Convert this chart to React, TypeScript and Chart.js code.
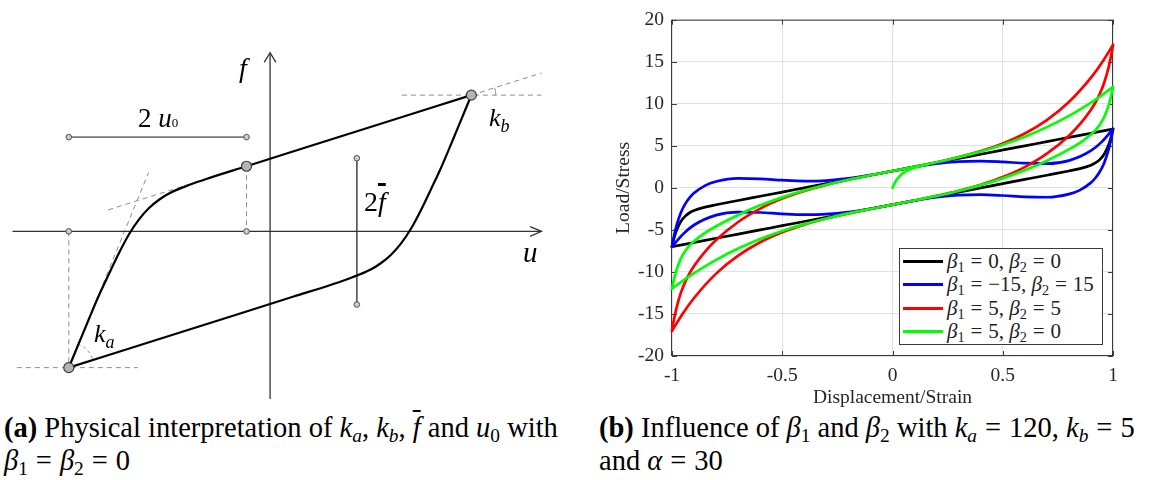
import React, { useEffect, useRef } from "react";
import { Chart, registerables } from "chart.js";

Chart.register(...registerables);

const SERIF = '"Liberation Serif", "Times New Roman", serif';

// ---------- Panel (a): schematic hysteresis loop in normalised units (u, f) ----------
const loopUpU = [-1, -0.95, -0.9, -0.85, -0.8, -0.75, -0.7, -0.65, -0.6, -0.55, -0.5, -0.4, -0.3, -0.117, 0.44, 1];
const loopUpF = [-1, -0.821, -0.643, -0.469, -0.311, -0.157, -0.019, 0.09, 0.173, 0.234, 0.28, 0.342, 0.393, 0.478, 0.739, 1];
const loopDownU = [-1, -0.44, 0.117, 0.3, 0.4, 0.5, 0.55, 0.6, 0.65, 0.7, 0.75, 0.8, 0.85, 0.9, 0.95, 1];
const loopDownF = [-1, -0.739, -0.478, -0.393, -0.342, -0.28, -0.234, -0.173, -0.09, 0.019, 0.157, 0.311, 0.469, 0.643, 0.821, 1];

const uAxisU = [-1.28, 1.348];
const uAxisF = [0, 0];
const uArrowU = [1.292, 1.348, 1.292];
const uArrowF = [0.035, 0, -0.036];
const fAxisU = [0, 0];
const fAxisF = [-1.23, 1.311];
const fArrowU = [-0.029, 0, 0.029];
const fArrowF = [1.24, 1.311, 1.24];

const dashVertAU = [-1, -1];
const dashVertAF = [0, -1];
const dashVertMU = [-0.117, -0.117];
const dashVertMF = [0.478, 0];
const dashBaseAU = [-1.258, -0.657];
const dashBaseAF = [-1, -1];
const dashBaseBU = [0.655, 1.348];
const dashBaseBF = [1, 1];
const dashSlopeBU = [1, 1.348];
const dashSlopeBF = [1, 1.162];
const dashSlopeMU = [-0.804, -0.117];
const dashSlopeMF = [0.158, 0.478];
const dashSlopeAU = [-1, -0.604];
const dashSlopeAF = [-1, 0.431];
const arcAU = [-0.9558, -0.9282, -0.9074, -0.8909, -0.8795];
const arcAF = [-0.8285, -0.8477, -0.8742, -0.9068, -0.9431];
const arcBU = [1.1215, 1.12, 1.1157];
const arcBF = [1, 1.0278, 1.0541];

const barU0U = [-1, -0.117];
const barU0F = [0.692, 0.692];
const barFbarU = [0.431, 0.431];
const barFbarF = [0.537, -0.537];

const bigPtsU = [-1, -0.117, 1];
const bigPtsF = [-1, 0.478, 1];
const smallPtsU = [-1, -0.117, -1, -0.117, 0.431, 0.431];
const smallPtsF = [0, 0, 0.692, 0.692, 0.537, -0.537];

// ---------- Panel (b): load vs displacement for four (beta1, beta2) cases ----------
const UP_U = [-1, -0.99, -0.98, -0.96, -0.94, -0.92, -0.9, -0.85, -0.8, -0.7, -0.6, -0.5, -0.4, -0.3, -0.2, -0.1, 0, 0.1, 0.2, 0.3, 0.4, 0.5, 0.6, 0.7, 0.8, 0.9, 0.95, 1];
const DOWN_U = [-1, -0.95, -0.9, -0.8, -0.7, -0.6, -0.5, -0.4, -0.3, -0.2, -0.1, 0, 0.1, 0.2, 0.3, 0.4, 0.5, 0.6, 0.7, 0.8, 0.85, 0.9, 0.92, 0.94, 0.96, 0.98, 0.99, 1];

const blackUp = [-7, -5.91, -5.1, -4.0, -3.36, -2.96, -2.7, -2.29, -2.01, -1.5, -1.0, -0.5, 0, 0.5, 1.0, 1.5, 2.0, 2.5, 3.0, 3.5, 4.0, 4.5, 5.0, 5.5, 6.0, 6.5, 6.75, 7];
const blackDown = [-7, -6.75, -6.5, -6.0, -5.5, -5.0, -4.5, -4.0, -3.5, -3.0, -2.5, -2.0, -1.5, -1.0, -0.5, 0, 0.5, 1.0, 1.5, 2.01, 2.29, 2.7, 2.96, 3.36, 4.0, 5.1, 5.91, 7];
const blueUp = [-7, -5.62, -4.54, -2.96, -1.91, -1.17, -0.62, 0.27, 0.75, 1.12, 1.07, 0.91, 0.81, 0.87, 1.12, 1.52, 2.0, 2.49, 2.89, 3.13, 3.19, 3.09, 2.93, 2.88, 3.24, 4.42, 5.5, 7];
const blueDown = [-7, -5.5, -4.42, -3.24, -2.88, -2.93, -3.09, -3.19, -3.13, -2.89, -2.49, -2.0, -1.52, -1.12, -0.87, -0.81, -0.91, -1.07, -1.12, -0.75, -0.27, 0.62, 1.17, 1.91, 2.96, 4.54, 5.62, 7];
const redUp = [-17, -15.52, -14.33, -12.5, -11.18, -10.15, -9.3, -7.58, -6.21, -4.06, -2.47, -1.28, -0.37, 0.35, 0.96, 1.5, 2.0, 2.51, 3.04, 3.65, 4.37, 5.28, 6.47, 8.06, 10.2, 13.1, 14.91, 17];
const redDown = [-17, -14.91, -13.1, -10.2, -8.06, -6.47, -5.28, -4.37, -3.65, -3.04, -2.51, -2.0, -1.5, -0.96, -0.35, 0.37, 1.28, 2.47, 4.06, 6.21, 7.58, 9.3, 10.15, 11.18, 12.5, 14.33, 15.52, 17];
const greenUp = [-12, -10.76, -9.81, -8.42, -7.51, -6.85, -6.35, -5.36, -4.57, -3.22, -2.08, -1.13, -0.32, 0.37, 0.96, 1.5, 2.0, 2.51, 3.04, 3.64, 4.32, 5.13, 6.08, 7.22, 8.56, 10.15, 11.04, 12];
const greenDown = [-12, -11.04, -10.15, -8.56, -7.22, -6.08, -5.13, -4.32, -3.64, -3.04, -2.51, -2.0, -1.5, -0.96, -0.37, 0.32, 1.13, 2.08, 3.22, 4.57, 5.36, 6.35, 6.85, 7.51, 8.42, 9.81, 10.76, 12];
const greenFirstU = [0, 0.01, 0.02, 0.04, 0.06, 0.08, 0.1, 0.13, 0.16];
const greenFirstF = [0, 0.57, 1.0, 1.6, 1.97, 2.22, 2.4, 2.61, 2.8];

const X_TICKS = [-1, -0.5, 0, 0.5, 1];
const Y_TICKS = [-20, -15, -10, -5, 0, 5, 10, 15, 20];

const SERIES_BETA1 = [0, -15, 5, 5];
const SERIES_BETA2 = [0, 15, 5, 0];
const SERIES_COLORS = ["#000000", "#0000ff", "#ff0000", "#00ff00"];

const xy = (us: number[], fs: number[]) => us.map((u, i) => ({ x: u, y: fs[i] }));
const fmt = (v: number) => (v < 0 ? "\u2212" + Math.abs(v) : String(v));

function seg(data: any[], color: string, width: number, dash: number[] = [], extra: any = {}) {
  return {
    data,
    showLine: true,
    borderColor: color,
    borderWidth: width,
    borderDash: dash,
    pointRadius: 0,
    fill: false,
    tension: 0,
    clip: false,
    ...extra,
  };
}

function leftConfig(): any {
  const dashC = "#8c8c8c";
  const dash = [5, 4];
  const datasets = [
    {
      data: xy(bigPtsU, bigPtsF),
      showLine: false,
      pointRadius: 5,
      pointBackgroundColor: "#b5b5b5",
      pointBorderColor: "#3a3a3a",
      pointBorderWidth: 1.2,
      clip: false,
    },
    {
      data: xy(smallPtsU, smallPtsF),
      showLine: false,
      pointRadius: 2.8,
      pointBackgroundColor: "#cdcdcd",
      pointBorderColor: "#505050",
      pointBorderWidth: 1,
      clip: false,
    },
    seg(xy(loopUpU, loopUpF), "#000", 2.2, [], { cubicInterpolationMode: "monotone" }),
    seg(xy(loopDownU, loopDownF), "#000", 2.2, [], { cubicInterpolationMode: "monotone" }),
    seg(xy(uAxisU, uAxisF), "#333", 1.3),
    seg(xy(uArrowU, uArrowF), "#333", 1.3),
    seg(xy(fAxisU, fAxisF), "#333", 1.3),
    seg(xy(fArrowU, fArrowF), "#333", 1.3),
    seg(xy(barU0U, barU0F), "#7a7a7a", 1.6),
    seg(xy(barFbarU, barFbarF), "#555", 1),
    seg(xy(dashVertAU, dashVertAF), dashC, 1, dash),
    seg(xy(dashVertMU, dashVertMF), dashC, 1, dash),
    seg(xy(dashBaseAU, dashBaseAF), dashC, 1, dash),
    seg(xy(dashBaseBU, dashBaseBF), dashC, 1, dash),
    seg(xy(dashSlopeBU, dashSlopeBF), dashC, 1, dash),
    seg(xy(dashSlopeMU, dashSlopeMF), dashC, 1, dash),
    seg(xy(dashSlopeAU, dashSlopeAF), dashC, 1, dash),
    seg(xy(arcAU, arcAF), dashC, 1, [3, 3], { tension: 0.4 }),
    seg(xy(arcBU, arcBF), dashC, 1, [], { tension: 0.4 }),
  ];
  return {
    type: "scatter",
    data: { datasets },
    options: {
      animation: false,
      responsive: true,
      maintainAspectRatio: false,
      events: [],
      layout: { padding: 0 },
      plugins: { legend: { display: false }, tooltip: { enabled: false } },
      scales: {
        x: { type: "linear", display: false, min: -1.311, max: 1.4593 },
        y: { type: "linear", display: false, min: -1.2655, max: 1.6527 },
      },
    },
  };
}

const axesBox = {
  id: "axesBox",
  beforeDatasetsDraw(chart: any) {
    const { ctx, chartArea: a, scales } = chart;
    const x = scales.x;
    const y = scales.y;
    ctx.save();
    ctx.strokeStyle = "#3a3a3a";
    ctx.lineWidth = 1;
    ctx.strokeRect(a.left - 0.5, a.top + 0.5, a.right - a.left, a.bottom - a.top - 1);
    ctx.beginPath();
    const t = 5;
    X_TICKS.forEach((v) => {
      const px = Math.round(x.getPixelForValue(v)) + 0.5;
      ctx.moveTo(px, a.bottom);
      ctx.lineTo(px, a.bottom - t);
      ctx.moveTo(px, a.top);
      ctx.lineTo(px, a.top + t);
    });
    Y_TICKS.forEach((v) => {
      const py = Math.round(y.getPixelForValue(v)) + 0.5;
      ctx.moveTo(a.left, py);
      ctx.lineTo(a.left + t, py);
      ctx.moveTo(a.right, py);
      ctx.lineTo(a.right - t, py);
    });
    ctx.stroke();
    ctx.restore();
  },
};

function rightConfig(): any {
  const curve = (us: number[], fs: number[], color: string) =>
    seg(xy(us, fs), color, 2.7, [], { cubicInterpolationMode: "monotone", borderCapStyle: "round", borderJoinStyle: "round" });
  // first entries are painted last (on top)
  const datasets = [
    curve(greenFirstU, greenFirstF, SERIES_COLORS[3]),
    curve(UP_U, greenUp, SERIES_COLORS[3]),
    curve(DOWN_U, greenDown, SERIES_COLORS[3]),
    curve(UP_U, redUp, SERIES_COLORS[2]),
    curve(DOWN_U, redDown, SERIES_COLORS[2]),
    curve(UP_U, blueUp, SERIES_COLORS[1]),
    curve(DOWN_U, blueDown, SERIES_COLORS[1]),
    curve(UP_U, blackUp, SERIES_COLORS[0]),
    curve(DOWN_U, blackDown, SERIES_COLORS[0]),
  ];
  const tickFont = { family: SERIF, size: 19.5 };
  const titleFont = { family: SERIF, size: 19.5 };
  return {
    type: "scatter",
    data: { datasets },
    plugins: [axesBox],
    options: {
      animation: false,
      responsive: true,
      maintainAspectRatio: false,
      events: [],
      layout: { padding: { left: 0, right: 36, top: 14, bottom: 0 } },
      plugins: { legend: { display: false }, tooltip: { enabled: false } },
      scales: {
        x: {
          type: "linear",
          min: -1,
          max: 1,
          afterBuildTicks: (s: any) => {
            s.ticks = X_TICKS.map((v) => ({ value: v }));
          },
          afterFit: (s: any) => {
            s.height = 54;
          },
          ticks: { autoSkip: false, maxRotation: 0, padding: 8, color: "#262626", font: tickFont, callback: (v: any) => String(v) },
          grid: { color: "#e1e1e1", drawTicks: false },
          border: { display: false },
          title: { display: true, text: "Displacement/Strain", color: "#262626", font: titleFont, padding: { top: 0, bottom: 0 } },
        },
        y: {
          type: "linear",
          min: -20,
          max: 20,
          afterBuildTicks: (s: any) => {
            s.ticks = Y_TICKS.map((v) => ({ value: v }));
          },
          afterFit: (s: any) => {
            s.width = 72;
          },
          ticks: { autoSkip: false, padding: 8, color: "#262626", font: tickFont, callback: (v: any) => String(v) },
          grid: { color: "#e1e1e1", drawTicks: false },
          border: { display: false },
          title: { display: true, text: "Load/Stress", color: "#262626", font: titleFont, padding: { top: 12.3, bottom: 0 } },
        },
      },
    },
  };
}

const Sub = ({ children, size = "0.68em", shift = "-0.28em", italic = false }: any) => (
  <span style={{ fontSize: size, verticalAlign: shift, lineHeight: 0, fontStyle: italic ? "italic" : "normal" }}>{children}</span>
);

const Eq = () => <span style={{ margin: "0 0.28em" }}>=</span>;

function Label({ left, top, size, children }: any) {
  return (
    <div style={{ position: "absolute", left, top, fontSize: size, lineHeight: 1, whiteSpace: "nowrap", fontFamily: SERIF }}>
      {children}
    </div>
  );
}

export default function App() {
  const leftRef = useRef<HTMLCanvasElement>(null);
  const rightRef = useRef<HTMLCanvasElement>(null);

  useEffect(() => {
    const a = new Chart(leftRef.current as HTMLCanvasElement, leftConfig());
    const b = new Chart(rightRef.current as HTMLCanvasElement, rightConfig());
    return () => {
      a.destroy();
      b.destroy();
    };
  }, []);

  const capStyle: any = {
    position: "absolute",
    fontFamily: SERIF,
    fontSize: 28.5,
    lineHeight: "33px",
    whiteSpace: "nowrap",
    color: "#000",
  };

  return (
    <div style={{ position: "absolute", left: 0, top: 0, width: 1149, height: 480, background: "#fff", overflow: "hidden", fontFamily: SERIF }}>
      <div style={{ position: "absolute", left: 0, top: 0, width: 570, height: 410 }}>
        <canvas ref={leftRef} />
      </div>

      <Label left={239} top={54} size={28}>
        <i>f</i>
      </Label>
      <Label left={523} top={238} size={29}>
        <i>u</i>
      </Label>
      <Label left={138} top={105} size={27}>
        2 <i>u</i>
        <span style={{ fontSize: 13 }}>0</span>
      </Label>
      <Label left={364} top={188} size={28}>
        2<i style={{ textDecoration: "overline", textDecorationThickness: "2.5px" }}>f</i>
      </Label>
      <Label left={94} top={321} size={26}>
        <i>k</i>
        <Sub size={18} shift={-6} italic>
          a
        </Sub>
      </Label>
      <Label left={489} top={105} size={26}>
        <i>k</i>
        <Sub size={18} shift={-6} italic>
          b
        </Sub>
      </Label>

      <div style={{ position: "absolute", left: 600, top: 0, width: 549, height: 410 }}>
        <canvas ref={rightRef} />
      </div>

      <div
        style={{
          position: "absolute",
          left: 899,
          top: 248,
          width: 204,
          height: 97,
          border: "1px solid #3a3a3a",
          boxSizing: "border-box",
          background: "#fff",
          paddingTop: 1,
        }}
      >
        {SERIES_COLORS.map((c, i) => (
          <div key={i} style={{ display: "flex", alignItems: "center", height: 23.3 }}>
            <span style={{ display: "inline-block", marginLeft: 3, width: 40, height: 3, background: c }} />
            <span style={{ marginLeft: 4, fontSize: 21, lineHeight: 1, whiteSpace: "nowrap", color: "#222" }}>
              <i>β</i>
              <Sub>1</Sub>
              <Eq />
              {fmt(SERIES_BETA1[i])},&nbsp;
              <i>β</i>
              <Sub>2</Sub>
              <Eq />
              {fmt(SERIES_BETA2[i])}
            </span>
          </div>
        ))}
      </div>

      <div style={{ ...capStyle, left: 4, top: 411 }}>
        <b>(a)</b> Physical interpretation of <i>k</i>
        <Sub italic>a</Sub>, <i>k</i>
        <Sub italic>b</Sub>, <i style={{ textDecoration: "overline" }}>f</i> and <i>u</i>
        <Sub>0</Sub> with
        <br />
        <i>β</i>
        <Sub>1</Sub>
        <Eq />
        <i>β</i>
        <Sub>2</Sub>
        <Eq />0
      </div>

      <div style={{ ...capStyle, left: 599, top: 411 }}>
        <b>(b)</b> Influence of <i>β</i>
        <Sub>1</Sub> and <i>β</i>
        <Sub>2</Sub> with <i>k</i>
        <Sub italic>a</Sub>
        <Eq />
        120, <i>k</i>
        <Sub italic>b</Sub>
        <Eq />5
        <br />
        and <i>α</i>
        <Eq />
        30
      </div>
    </div>
  );
}
